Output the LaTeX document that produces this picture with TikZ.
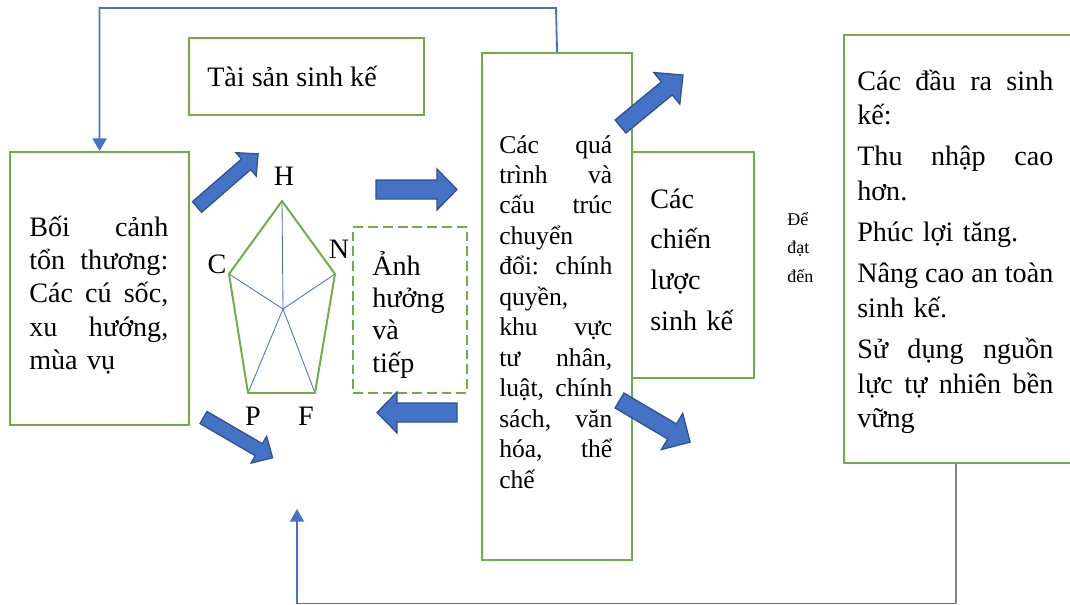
\documentclass[tikz,border=0pt]{standalone}
\usepackage{fontspec}
\setmainfont{Liberation Serif}
\usetikzlibrary{arrows.meta}

\definecolor{boxgreen}{HTML}{70AD47}
\definecolor{flowblue}{HTML}{4472C4}
\definecolor{flowedge}{HTML}{2F528F}
\definecolor{linkgray}{HTML}{404040}

% fat block arrow: length / half shaft / half head / head length
\tikzset{
  pics/fatarrow/.style args={#1/#2/#3/#4}{code={
    \draw[fill=flowblue, draw=flowedge, line width=0.9pt, line join=miter]
      (0,-#2) -- (#1-#4,-#2) -- (#1-#4,-#3) -- (#1,0) -- (#1-#4,#3)
      -- (#1-#4,#2) -- (0,#2) -- cycle;
  }}
}

\begin{document}
\begin{tikzpicture}[x=0.025cm, y=-0.025cm,
    box/.style={draw=boxgreen, line width=1.5pt, anchor=north west, inner sep=0pt},
    dbox/.style={box, dash pattern=on 7pt off 3.5pt},
    txt/.style={anchor=base west, inner sep=0pt, align=left},
    big/.style={font=\fontsize{20}{23.8}\selectfont},
    mid/.style={font=\fontsize{18.2}{21.66}\selectfont},
    small/.style={font=\fontsize{12.8}{20.3}\selectfont},
    vtx/.style={inner sep=0pt, anchor=base, font=\fontsize{20}{24}\selectfont},
    fb/.style={draw=flowblue, line width=1.3pt},
    tip/.style={-{Triangle[width=10pt,length=9pt]}},
]
\clip (0,0) rectangle (1070,604);

% -- boxes --
\node[box, minimum width=5.875cm, minimum height=1.925cm] (tai) at (188,37) {};
\node[box, minimum width=4.475cm, minimum height=6.825cm] (ctx) at (9,151) {};
\node[dbox, minimum width=2.85cm, minimum height=4.15cm] (anh) at (352,226) {};
\node[box, minimum width=3.75cm, minimum height=12.675cm] (proc) at (481,52) {};
\node[box, minimum width=3.05cm, minimum height=5.65cm] (strat) at (631,151) {};
\node[box, minimum width=6.5cm, minimum height=10.7cm] (outc) at (843,34) {};

% -- texts --
\node[txt, big] (taitxt) at (207,87) {Tài sản sinh kế};
\node[txt, big, text width=3.475cm] (ctxtxt) at (29,236)
  {Bối\hfill cảnh\\tổn\hfill thương:\\Các\hfill cú\hfill sốc,\\xu\hfill hướng,\\mùa vụ};
\node[txt, font=\fontsize{20}{23.1}\selectfont, text width=2.2cm] (anhtxt) at (372,275)
  {Ảnh\\hưởng\\và\\tiếp};
\node[txt, mid, text width=2.825cm] (proctxt) at (499,153)
  {Các\hfill quá\\trình\hfill và\\cấu\hfill trúc\\chuyển\\đổi:\hfill chính\\quyền,\\khu\hfill vực\\tư\hfill nhân,\\luật,\hfill chính\\sách,\hfill văn\\hóa,\hfill thể\\chế};
\node[txt, font=\fontsize{20}{29}\selectfont, text width=2.5cm] (strattxt) at (650,208)
  {Các\\chiến\\lược\\sinh kế};
\node[txt, small, text width=1.2cm] (reach) at (787,225) {Để\\đạt\\đến};
\node[txt, font=\fontsize{20}{24.5}\selectfont, text width=4.9cm] (outctxt) at (857,90)
  {Các\hfill đầu\hfill ra\hfill sinh\\kế:\\[4.9pt]
   Thu\hfill nhập\hfill cao\\hơn.\\[4.9pt]
   Phúc lợi tăng.\\[4.9pt]
   Nâng\hfill cao\hfill an\hfill toàn\\sinh kế.\\[4.9pt]
   Sử\hfill dụng\hfill nguồn\\lực\hfill tự\hfill nhiên\hfill bền\\vững};

% -- asset pentagon --
\coordinate (H) at (282,201);
\coordinate (N) at (335,274);
\coordinate (F) at (315,393);
\coordinate (P) at (248,393);
\coordinate (C) at (229,274);
\coordinate (hub) at (283,309);
\foreach \v in {H,N,F,P,C}
  \draw[flowblue, line width=0.6pt] (hub) -- (\v);
\draw[boxgreen, line width=1.4pt, line join=round] (H) -- (N) -- (F) -- (P) -- (C) -- cycle;
\node[vtx] (lblH) at (284,185) {H};
\node[vtx] (lblN) at (339,258) {N};
\node[vtx] (lblC) at (217,273) {C};
\node[vtx] (lblP) at (253,425) {P};
\node[vtx] (lblF) at (306,425) {F};

% -- block arrows --
\pic[rotate=41]    at (197,207)   {fatarrow=81/7/15.5/16};
\pic               at (376,189.5) {fatarrow=81/9.5/20.5/20};
\pic[rotate=180]   at (457,412.5) {fatarrow=80/9.5/20.5/20};
\pic[rotate=-30.2] at (203.5,417.5) {fatarrow=80/7/15.5/16};
\pic[rotate=39.5]  at (620.5,126.5) {fatarrow=81/8.5/20.5/21};
\pic[rotate=-30.5] at (619.5,400.5) {fatarrow=82/8.7/21/21};

% -- feedback links --
\coordinate (topbend) at (556,8);
\draw[fb, tip] (proc.north) -- (topbend) -| (ctx.north);
\coordinate (outfoot) at (956,603.5);
\coordinate (backin) at (297,509);
\draw[linkgray, line width=1pt] ([xshift=2.825cm]outc.south west) -- (outfoot);
\draw[fb, tip] (outfoot) -| (backin);
\end{tikzpicture}
\end{document}
